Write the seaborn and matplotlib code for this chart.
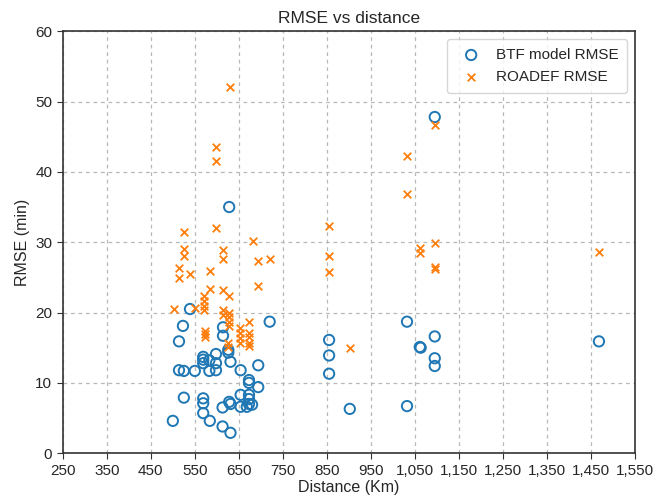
import matplotlib
matplotlib.use("Agg")
import matplotlib.pyplot as plt
import matplotlib.ticker as mticker
import seaborn as sns
import pandas as pd

# BTF model RMSE per route: distance (Km) and RMSE (min)
btf_distance = [1095, 628, 539, 720, 523, 614, 614, 626, 626, 514,
                569, 569, 569, 598, 583, 598, 598, 583, 514, 525,
                550, 631, 654, 694, 673, 673, 694, 525, 569, 569,
                569, 584, 613, 628, 631, 654, 654, 673, 673, 673,
                680, 668, 500, 613, 631, 1032, 855, 855, 855, 1061,
                1063, 1095, 1095, 1095, 902, 1032, 1468]
btf_rmse = [47.8, 35.0, 20.5, 18.7, 18.1, 17.9, 16.7, 14.7, 14.3, 15.9,
            13.7, 13.3, 12.8, 14.1, 13.2, 12.8, 11.8, 11.7, 11.8, 11.7,
            11.7, 13.0, 11.8, 12.5, 10.4, 10.0, 9.4, 7.9, 7.8, 7.1,
            5.7, 4.6, 6.5, 7.3, 7.0, 8.3, 6.6, 8.3, 7.7, 7.0,
            6.9, 6.6, 4.6, 3.8, 2.9, 18.7, 16.1, 13.9, 11.3, 15.1,
            15.0, 16.6, 13.5, 12.4, 6.3, 6.7, 15.9]

# ROADEF RMSE per route
roadef_distance = [630, 598, 598, 1032, 1032, 1095, 855, 855, 855, 1061,
                   1061, 1095, 1095, 1095, 902, 1468, 525, 598, 681, 525,
                   525, 613, 613, 694, 720, 514, 514, 539, 584, 694,
                   584, 613, 628, 571, 571, 571, 571, 502, 550, 613,
                   613, 628, 628, 628, 628, 573, 573, 573, 626, 626,
                   652, 652, 652, 652, 673, 673, 673, 673, 673]
roadef_rmse = [52.1, 43.5, 41.5, 42.3, 36.8, 46.6, 32.3, 28.0, 25.8, 29.2,
               28.4, 29.9, 26.5, 26.2, 14.9, 28.6, 31.4, 32.0, 30.2, 29.0,
               28.1, 28.9, 27.6, 27.3, 27.6, 26.3, 24.9, 25.5, 25.9, 23.8,
               23.3, 23.2, 22.4, 22.4, 21.7, 20.9, 20.4, 20.5, 20.6, 20.3,
               19.6, 20.0, 19.4, 18.6, 18.1, 17.4, 17.0, 16.5, 15.6, 15.1,
               17.8, 17.1, 16.4, 15.6, 18.6, 17.1, 16.5, 15.6, 15.2]

x_ticks = list(range(250, 1551, 100))
y_ticks = list(range(0, 61, 10))

btf = pd.DataFrame({"distance": btf_distance, "rmse": btf_rmse})
roadef = pd.DataFrame({"distance": roadef_distance, "rmse": roadef_rmse})

sns.set_style("ticks")
plt.rcParams["font.family"] = ["Liberation Sans", "DejaVu Sans"]

fig = plt.figure(figsize=(6.54, 5.03), dpi=100)
ax = fig.add_axes([0.096, 0.099, 0.875, 0.839])

sns.scatterplot(data=btf, x="distance", y="rmse", ax=ax, marker="o", s=55,
                facecolor="none", edgecolor="#1f77b4", linewidth=1.4,
                label="BTF model RMSE", zorder=3)
sns.scatterplot(data=roadef, x="distance", y="rmse", ax=ax, marker="x", s=30,
                color="#ff7f0e", linewidth=1.3, label="ROADEF RMSE", zorder=3)

ax.set_xlim(250, 1550)
ax.set_ylim(0, 60)
ax.set_xticks(x_ticks)
ax.set_yticks(y_ticks)
ax.xaxis.set_major_formatter(mticker.FuncFormatter(lambda v, p: f"{int(v):,}"))
ax.tick_params(labelsize=11, length=4, color="#333333")
ax.grid(True, linestyle=(0, (3, 3)), color="#b8b8b8", linewidth=0.9)
for sp in ax.spines.values():
    sp.set_color("#333333")
    sp.set_linewidth(1.2)

ax.set_title("RMSE vs distance", fontsize=12.5)
ax.set_xlabel("Distance (Km)", fontsize=11.5, labelpad=2)
ax.set_ylabel("RMSE (min)", fontsize=11.5)
ax.legend(loc="upper right", fontsize=11, frameon=True, borderpad=0.6,
          handletextpad=0.6)

fig.savefig("out.png", dpi=100)
